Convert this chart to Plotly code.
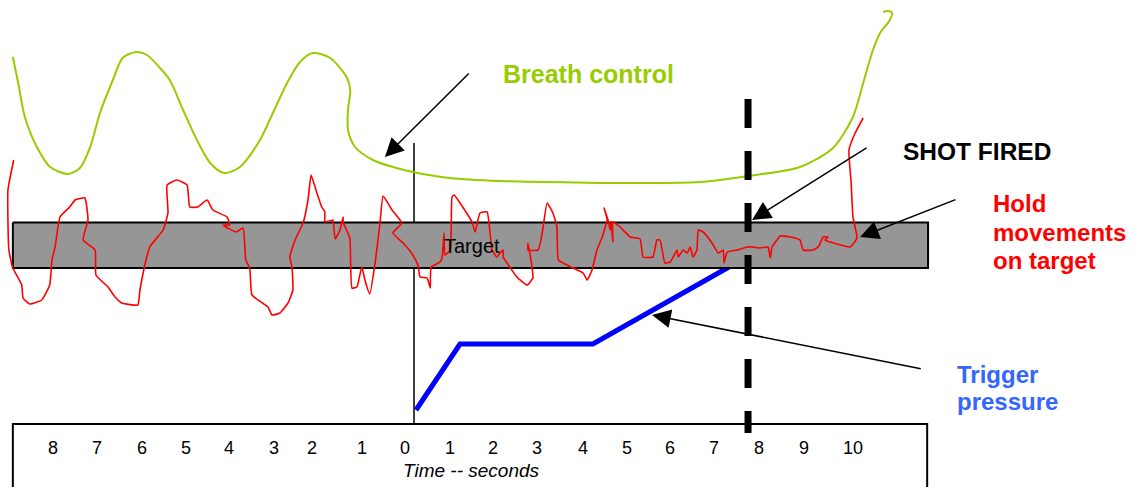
import plotly.graph_objects as go

FONT = "Liberation Sans, Arial, sans-serif"

# ---- data (x = time in seconds, y = vertical offset from target centre, arbitrary units) ----
BREATH_T = [-8.89, -8.77, -8.62, -8.35, -8.05, -7.65, -7.38, -7.15, -6.93, -6.64, -6.42, -6.12,
            -5.87, -5.58, -5.36, -5.06, -4.75, -4.45, -4.14, -3.78, -3.33, -3.04, -2.72, -2.43,
            -2.14, -1.75, -1.37, -1.30, -1.35, -1.35, -1.19, -0.79, -0.34, 0.11, 0.94, 2.07,
            3.19, 4.32, 5.44, 6.57, 7.65, 8.82, 9.56, 10.01, 10.24, 10.46, 10.62, 10.84, 10.89,
            10.80, 10.69]
BREATH_POS = [18.8, 16.2, 12.8, 9.8, 7.8, 7.1, 7.7, 9.8, 13.2, 16.5, 18.7, 19.3,
              19.0, 17.7, 16.5, 13.5, 10.5, 8.2, 7.2, 7.8, 10.5, 13.2, 16.2, 18.3,
              19.2, 18.7, 16.7, 15.5, 13.5, 11.5, 9.8, 8.5, 7.8, 7.3, 6.7, 6.4,
              6.3, 6.2, 6.2, 6.3, 6.9, 7.8, 9.7, 12.8, 16.2, 19.5, 21.2, 22.5, 23.2,
              23.4, 23.3]

HOLD_T = [-8.87, -9.00, -8.98, -8.89, -8.69, -8.66, -8.51, -8.24, -8.06, -8.01, -7.94, -7.83,
          -7.61, -7.49, -7.27, -7.20, -7.31, -7.04, -7.02, -6.75, -6.59, -6.44, -6.08, -6.03,
          -5.92, -5.81, -5.51, -5.40, -5.42, -5.20, -4.97, -4.91, -4.73, -4.52, -4.39, -4.07,
          -4.01, -4.16, -3.87, -3.71, -3.65, -3.56, -3.51, -3.15, -3.06, -2.88, -2.70, -2.59,
          -2.61, -2.66, -2.54, -2.36, -2.25, -2.18, -2.07, -1.94, -1.87, -1.87, -1.76, -1.69,
          -1.64, -1.53, -1.46, -1.46, -1.31, -1.26, -1.15, -1.04, -0.97, -0.86, -0.74, -0.63,
          -0.56, -0.36, -0.14, -0.34, -0.11, 0.11, 0.23, 0.27, 0.43, 0.50, 0.52, 0.72,
          0.77, 0.81, 0.83, 0.95, 0.99, 1.04, 1.17, 1.44, 1.51, 1.62, 1.78, 1.89,
          2.00, 2.07, 2.14, 2.14, 2.23, 2.45, 2.68, 2.81, 2.79, 2.70, 2.70, 2.93,
          3.02, 3.13, 3.26, 3.35, 3.38, 3.49, 3.71, 3.94, 4.03, 4.14, 4.25, 4.37,
          4.43, 4.48, 4.41, 4.50, 4.55, 4.57, 4.61, 4.61, 4.77, 5.00, 5.22, 5.29,
          5.51, 5.60, 5.67, 5.78, 5.90, 6.05, 6.08, 6.19, 6.28, 6.35, 6.41, 6.50,
          6.53, 6.64, 6.84, 6.98, 7.09, 7.11, 7.18, 7.40, 7.63, 7.76, 7.92, 8.10,
          8.15, 8.19, 8.30, 8.37, 8.60, 8.82, 8.89, 9.11, 9.23, 9.34, 9.45, 9.38,
          9.50, 9.95, 10.10, 10.01, 9.97, 9.92, 10.06, 10.24]
HOLD_POS = [8.5, 5.5, -0.5, -2.3, -4.0, -5.3, -5.9, -5.5, -4.0, -1.5, -0.2, 2.8,
            3.8, 4.5, 4.7, 2.5, 0.5, -0.5, -3.0, -4.2, -5.2, -5.8, -6.0, -4.5,
            -2.0, -0.2, 1.5, 3.2, 6.0, 6.5, 6.0, 3.8, 3.8, 4.5, 3.5, 2.8,
            2.0, 2.0, 1.3, 1.7, -1.5, -2.3, -5.0, -6.2, -7.0, -6.8, -5.8, -4.5,
            -2.2, -1.2, 0.5, 2.2, 4.5, 7.0, 5.5, 3.8, 3.3, 2.3, 2.4, 2.5,
            0.6, 1.5, 2.8, 2.3, 0.7, -4.3, -4.2, -2.2, -3.5, -4.9, -1.8, 2.2,
            4.9, 3.5, 2.2, 1.2, 0.2, -1.0, -2.1, -3.2, -3.3, -4.3, -2.2, -1.7,
            -1.2, 1.2, -1.0, -0.5, 4.8, 5.0, 4.2, 2.3, 1.3, 3.2, 3.3, -0.5,
            -1.2, -0.8, -0.5, -1.2, -1.8, -3.2, -4.0, -3.3, -2.2, 0.2, -0.5, -0.5,
            1.2, 4.2, 3.2, 1.8, -1.5, -1.8, -2.3, -2.8, -3.5, -2.5, -0.5, 0.8,
            1.7, 2.5, 3.7, 2.5, 1.5, 2.3, 0.3, 2.3, 1.8, 0.8, 0.6, -1.2,
            -1.2, 0.5, 0.5, -1.8, -1.7, -0.5, -1.2, -0.5, -0.8, -0.2, -1.2, -0.5,
            1.5, 1.3, 0.2, -0.8, -0.5, -1.8, -0.7, -0.5, -0.2, -0.2, -0.3, -0.2,
            -1.3, -0.2, 0.5, 0.9, 0.8, 0.5, -0.5, -0.5, -0.2, 0.8, 0.8, 0.5,
            0.3, -0.2, 0.7, 2.8, 6.2, 9.5, 11.2, 12.7]

TRIGGER_T = [0.18, 1.17, 4.16, 7.22]
TRIGGER_POS = [-16.5, -9.9, -9.9, -2.2]

TARGET_T = [-8.89, 11.70]          # target band extent (time)
TARGET_POS = [-2.3, 2.25]          # target band extent (offset)
TIMEBOX_T = [-8.89, 11.68]
TIMEBOX_POS = [-25.0, -17.9]
ZERO_LINE_T = 0.135
ZERO_LINE_POS = [10.2, -17.9]
SHOT_T = 7.65
SHOT_POS = [14.6, -18.8]

TICK_T = [-7.98, -7.00, -5.99, -5.00, -4.02, -3.02, -2.17, -1.04, -0.07, 0.95, 1.91, 2.90,
          3.94, 4.93, 5.89, 6.89, 7.90, 8.91, 10.01]
TICK_TEXT = ["8", "7", "6", "5", "4", "3", "2", "1", "0", "1", "2", "3", "4", "5", "6", "7",
             "8", "9", "10"]

GREEN = "#99cc00"
RED = "#ff0000"

fig = go.Figure()

# time box (white, outlined)
fig.add_shape(type="rect", x0=TIMEBOX_T[0], x1=TIMEBOX_T[1], y0=TIMEBOX_POS[0], y1=TIMEBOX_POS[1],
              line=dict(color="black", width=2), fillcolor="white", layer="below")

# zero vertical line
fig.add_trace(go.Scatter(x=[ZERO_LINE_T, ZERO_LINE_T], y=ZERO_LINE_POS, mode="lines",
                         line=dict(color="black", width=1.5), hoverinfo="skip"))
# trigger pressure
fig.add_trace(go.Scatter(x=TRIGGER_T, y=TRIGGER_POS, mode="lines",
                         line=dict(color="#0000ff", width=5), hoverinfo="skip"))
# target band
fig.add_trace(go.Scatter(x=[TARGET_T[0], TARGET_T[1], TARGET_T[1], TARGET_T[0], TARGET_T[0]],
                         y=[TARGET_POS[1], TARGET_POS[1], TARGET_POS[0], TARGET_POS[0], TARGET_POS[1]],
                         mode="lines", fill="toself", fillcolor="#969696",
                         line=dict(color="black", width=2), hoverinfo="skip"))
# breath control
fig.add_trace(go.Scatter(x=BREATH_T, y=BREATH_POS, mode="lines",
                         line=dict(color=GREEN, width=2, shape="spline", smoothing=0.8),
                         hoverinfo="skip"))
# hold movements
fig.add_trace(go.Scatter(x=HOLD_T, y=HOLD_POS, mode="lines",
                         line=dict(color=RED, width=1.6, shape="spline", smoothing=0.4),
                         hoverinfo="skip"))
# shot fired dashed line
fig.add_trace(go.Scatter(x=[SHOT_T, SHOT_T], y=SHOT_POS, mode="lines",
                         line=dict(color="black", width=7, dash="29px,23px"), hoverinfo="skip"))

# tick labels
for t, txt in zip(TICK_T, TICK_TEXT):
    fig.add_annotation(x=t, y=-20.3, text=txt, showarrow=False,
                       font=dict(family=FONT, size=18, color="black"))
fig.add_annotation(x=1.42, y=-22.5, text="<i>Time -- seconds</i>", showarrow=False,
                   font=dict(family=FONT, size=19, color="black"))
fig.add_annotation(x=1.43, y=-0.1, text="Target", showarrow=False,
                   font=dict(family=FONT, size=20, color="black"))

# labels
fig.add_annotation(x=4.05, y=17.1, text="<b>Breath control</b>", showarrow=False,
                   font=dict(family=FONT, size=25, color=GREEN))
fig.add_annotation(x=12.80, y=9.4, text="<b>SHOT FIRED</b>", showarrow=False,
                   font=dict(family=FONT, size=24.5, color="black"))
for yy, txt in zip([4.2, 1.3, -1.5], ["Hold", "movements", "on target"]):
    fig.add_annotation(x=13.12, y=yy, text="<b>" + txt + "</b>", showarrow=False, xanchor="left",
                       font=dict(family=FONT, size=24, color=RED))
for yy, txt in zip([-12.9, -15.6], ["Trigger", "pressure"]):
    fig.add_annotation(x=12.31, y=yy, text="<b>" + txt + "</b>", showarrow=False, xanchor="left",
                       font=dict(family=FONT, size=24, color="#3366ff"))

# arrows (tip -> tail)
ARROWS = [((-0.52, 8.8), (1.40, 17.3)),
          ((7.74, 2.5), (10.35, 9.8)),
          ((10.17, 0.8), (12.35, 4.6)),
          ((5.49, -7.0), (11.57, -12.4))]
for (tx, ty), (ax_, ay_) in ARROWS:
    fig.add_annotation(x=tx, y=ty, ax=ax_, ay=ay_, axref="x", ayref="y", text="",
                       showarrow=True, arrowhead=2, arrowsize=2.5, arrowwidth=1.5,
                       arrowcolor="black")

fig.update_layout(
    width=1142, height=487, margin=dict(l=0, r=0, t=0, b=0),
    paper_bgcolor="white", plot_bgcolor="white", showlegend=False,
    xaxis=dict(range=[-9.179, 16.513], visible=False, fixedrange=True),
    yaxis=dict(range=[-24.2, 24.5], visible=False, fixedrange=True),
)

fig.write_html("out.html", config={"displayModeBar": False},
               post_script="document.body.style.margin='0';document.body.style.overflow='hidden';")
